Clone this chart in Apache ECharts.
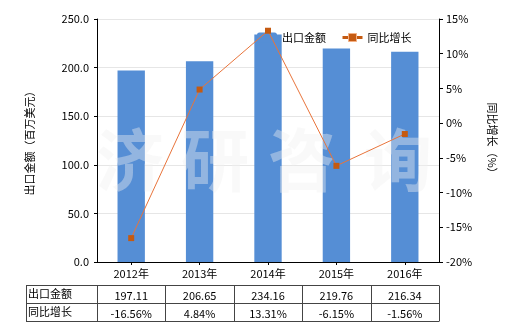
<!DOCTYPE html>
<html><head><meta charset="utf-8">
<script src="https://cdn.jsdelivr.net/npm/echarts@6/dist/echarts.min.js"></script>
<style>html,body{margin:0;padding:0;background:#fff}#c{width:520px;height:330px}</style>
</head><body><div id="c"></div>
<script>
var categories = ['2012年','2013年','2014年','2015年','2016年'];
var exportValues = [197.11, 206.65, 234.16, 219.76, 216.34];
var growthValues = [-16.56, 4.84, 13.31, -6.15, -1.56];
var exportLabels = ['197.11','206.65','234.16','219.76','216.34'];
var growthLabels = ['-16.56%','4.84%','13.31%','-6.15%','-1.56%'];
var seriesNames = ['出口金额','同比增长'];
var watermarkChars = ['济','研','咨','询'];

var FONT = "'Microsoft YaHei','Noto Sans CJK SC',sans-serif";
var chart = echarts.init(document.getElementById('c'), null, {renderer:'canvas'});
var option = {
  animation: false,
  textStyle: {fontFamily: FONT, fontSize: 11, color: '#000'},
  legend: {
    left: 252, top: 27, itemWidth: 20, itemHeight: 10, itemGap: 15,
    textStyle: {fontFamily: FONT, fontSize: 11, color: '#000'},
    data: [
      {name: seriesNames[0]},
      {name: seriesNames[1], lineStyle: {width: 3, color: '#c55a11'}, itemStyle: {color: '#c55a11', borderColor: '#f4b183', borderWidth: 1}}
    ]
  },
  grid: {left: 97, right: 81, top: 19, bottom: 68},
  xAxis: {
    type: 'category', data: categories,
    axisLine: {lineStyle: {color: '#000'}},
    axisTick: {show: true, alignWithLabel: true, length: 3, lineStyle: {color: '#000'}},
    axisLabel: {margin: 6, color: '#000', fontFamily: FONT, fontSize: 11}
  },
  yAxis: [{
    type: 'value', min: 0, max: 250, interval: 50,
    name: '出口金额（百万美元）', nameLocation: 'middle', nameGap: 62,
    nameTextStyle: {fontFamily: FONT, fontSize: 11, color: '#000'},
    axisLine: {show: true, lineStyle: {color: '#000'}},
    axisTick: {show: true, length: 3, lineStyle: {color: '#000'}},
    axisLabel: {margin: 8, color: '#000', fontFamily: FONT, fontSize: 11,
      formatter: function(v){return v.toFixed(1);}},
    splitLine: {lineStyle: {color: '#e6e6e6'}}
  },{
    type: 'value', min: -20, max: 15, interval: 5, position: 'right',
    name: '同比增长（%）', nameLocation: 'middle', nameGap: 48, nameRotate: -90,
    nameTextStyle: {fontFamily: FONT, fontSize: 11, color: '#000'},
    axisLine: {show: true, lineStyle: {color: '#000'}},
    axisTick: {show: true, length: 4, lineStyle: {color: '#000'}},
    axisLabel: {margin: 7, color: '#000', fontFamily: FONT, fontSize: 11,
      formatter: function(v){return v + '%';}},
    splitLine: {show: false}
  }],
  series: [{
    name: seriesNames[0], type: 'bar', data: exportValues, barWidth: '40%', z: 2,
    itemStyle: {color: '#558ed5'}
  },{
    name: seriesNames[1], type: 'line', yAxisIndex: 1, data: growthValues, z: 10,
    symbol: 'rect', symbolSize: 6,
    itemStyle: {color: '#c55a11'},
    lineStyle: {color: '#e8743b', width: 1}
  }]
};
chart.setOption(option);

function buildGraphics(){
  var els = [];
  var c0 = chart.convertToPixel({xAxisIndex:0}, categories[0]);
  var c1 = chart.convertToPixel({xAxisIndex:0}, categories[1]);
  var band = c1 - c0;
  var xs = [26];
  for (var i = 0; i < categories.length; i++) {
    xs.push(chart.convertToPixel({xAxisIndex:0}, categories[i]) - band/2);
  }
  xs.push(chart.convertToPixel({xAxisIndex:0}, categories[categories.length-1]) + band/2);
  var ys = [285.5, 303.5, 321.5];
  var stroke = {stroke: '#444', lineWidth: 1};
  ys.forEach(function(y){
    els.push({type:'line', shape:{x1:xs[0], y1:y, x2:xs[xs.length-1], y2:y}, style:stroke, z:1});
  });
  xs.forEach(function(x){
    var xx = Math.round(x) + 0.5;
    els.push({type:'line', shape:{x1:xx, y1:ys[0], x2:xx, y2:ys[2]}, style:stroke, z:1});
  });
  var rowLabels = [seriesNames[0], seriesNames[1]];
  var rowVals = [exportLabels, growthLabels];
  for (var r = 0; r < 2; r++) {
    var cy = (ys[r] + ys[r+1]) / 2;
    els.push({type:'text', x: 28, y: cy - 1, style:{text: rowLabels[r], font: '11px ' + FONT, fill:'#000', textAlign:'left', textVerticalAlign:'middle'}, z:1});
    for (var k = 0; k < categories.length; k++) {
      var cx = chart.convertToPixel({xAxisIndex:0}, categories[k]);
      els.push({type:'text', x: cx, y: cy + 1, style:{text: rowVals[r][k], font: '11px ' + FONT, fill:'#000', textAlign:'center', textVerticalAlign:'middle'}, z:1});
    }
  }
  var wmX = [130, 215, 302, 398];
  watermarkChars.forEach(function(ch, i){
    els.push({type:'text', x: wmX[i], y: 160, z: 5,
      style:{text: ch, font: 'bold 68px ' + FONT, fill: 'rgba(240,240,240,0.4)', textAlign:'center', textVerticalAlign:'middle'}});
  });
  return els;
}
chart.setOption({graphic: {elements: buildGraphics()}});
</script></body></html>
